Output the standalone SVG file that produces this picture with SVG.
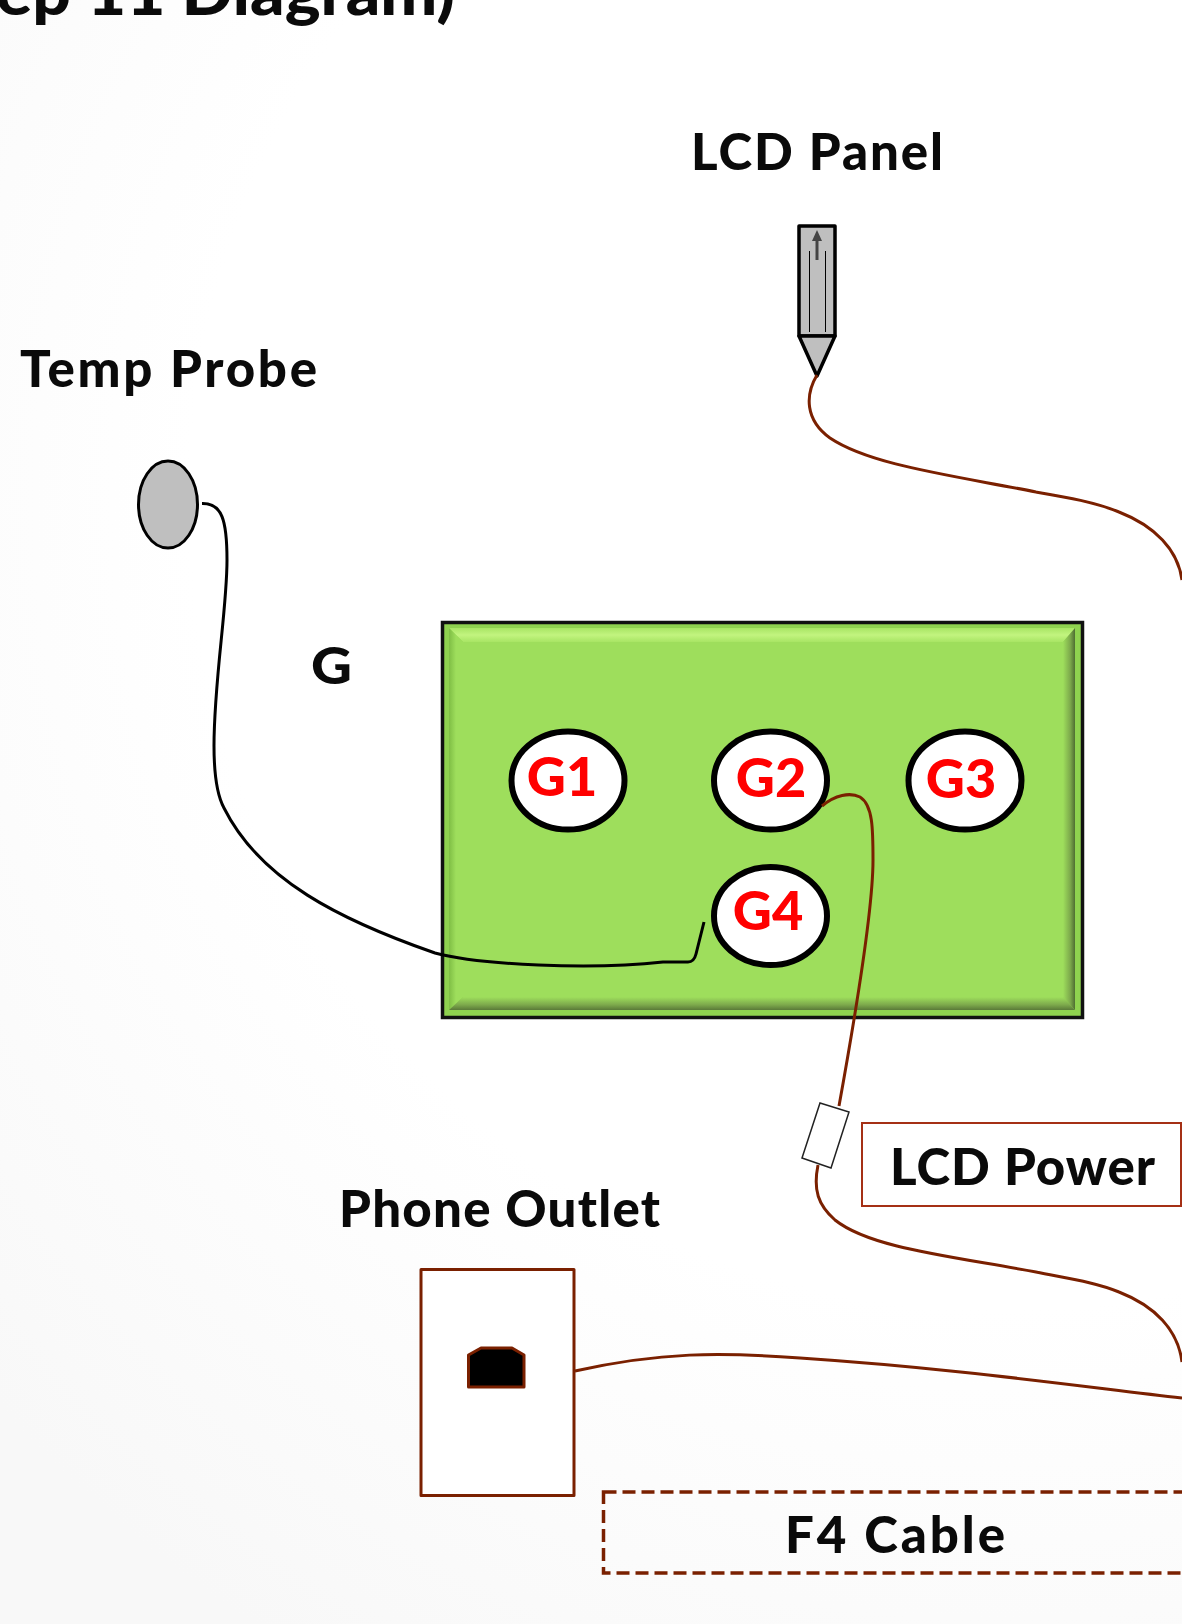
<svg xmlns="http://www.w3.org/2000/svg" width="1182" height="1624" viewBox="0 0 1182 1624">
<style>
.t{font-family:"Lato","Liberation Sans",sans-serif;font-weight:900;fill:#0a0a0a;font-size:51px}
.g{font-family:"Lato","Liberation Sans",sans-serif;font-weight:900;fill:#ff0000;font-size:54px;text-anchor:middle}
.w{fill:none;stroke:#7a2000;stroke-width:3}
.p{fill:#fff;stroke:#000;stroke-width:6}
</style>
<defs>
<radialGradient id="bg" gradientUnits="userSpaceOnUse" cx="1000" cy="500" r="1350">
<stop offset="0.6" stop-color="#ffffff"/><stop offset="1" stop-color="#f8f8f8"/>
</radialGradient>
<linearGradient id="r" x1="0" x2="1" y1="0" y2="0"><stop offset="0" stop-color="#9ede5c"/><stop offset="0.6" stop-color="#7da94c"/><stop offset="1" stop-color="#4f6e32"/></linearGradient>
<linearGradient id="b" x1="0" x2="0" y1="0" y2="1"><stop offset="0" stop-color="#9ede5c"/><stop offset="0.6" stop-color="#7da94c"/><stop offset="1" stop-color="#5a7a38"/></linearGradient>
<linearGradient id="l" x1="0" x2="1" y1="0" y2="0"><stop offset="0" stop-color="#7fbe45"/><stop offset="0.5" stop-color="#9ede5c"/></linearGradient>
<linearGradient id="u" x1="0" x2="0" y1="0" y2="1"><stop offset="0" stop-color="#a8e564"/><stop offset="0.5" stop-color="#c2f47f"/><stop offset="1" stop-color="#a8e564"/></linearGradient>
</defs>
<rect width="1182" height="1624" fill="url(#bg)"/>
<text class="t" x="-4" y="15" textLength="459" lengthAdjust="spacingAndGlyphs" style="font-size:62px">ep 11 Diagram)</text>
<text class="t" x="691" y="170" textLength="252">LCD Panel</text>
<text class="t" x="20" y="387" textLength="297">Temp Probe</text>
<text class="t" x="311" y="684" textLength="41" lengthAdjust="spacingAndGlyphs">G</text>
<g id="board">
<rect x="442.500" y="622.500" width="640" height="395" fill="#8fd24f" stroke="#111" stroke-width="3.500"/>
<polygon points="449,628 1075,628 1063,642 463,642" fill="url(#u)"/>
<polygon points="449,628 463,642 463,997 449,1010" fill="url(#l)"/>
<polygon points="1075,628 1075,1010 1063,997 1063,642" fill="url(#r)"/>
<polygon points="449,1010 1075,1010 1063,997 463,997" fill="url(#b)"/>
<rect x="463" y="642" width="600" height="355" fill="#9ede5c"/>
</g>
<g id="temp-probe"><ellipse cx="168" cy="504.500" rx="29.500" ry="43.500" fill="#bfbfbf" stroke="#000" stroke-width="3"/></g>
<g id="lcd-panel">
<rect x="799" y="226" width="36" height="110" fill="#bfbfbf" stroke="#000" stroke-width="3.500" stroke-linejoin="round"/>
<polygon points="799,336 835,336 817,376" fill="#bfbfbf" stroke="#000" stroke-width="3.500" stroke-linejoin="round"/>
<path d="M809.500 251V332M825.500 251V332" stroke="#000" stroke-width="1" fill="none"/>
<path d="M817 260V238" stroke="#444" stroke-width="3" fill="none"/>
<polygon points="817,230 822,241 812,241" fill="#444"/>
</g>
<g id="G1"><ellipse class="p" cx="568" cy="780.500" rx="56.500" ry="49"/><text class="g" x="562" y="796">G1</text></g>
<g id="G2"><ellipse class="p" cx="770.500" cy="780.500" rx="56.500" ry="49"/><text class="g" x="771" y="797">G2</text></g>
<g id="G3"><ellipse class="p" cx="965" cy="780.500" rx="56.500" ry="49"/><text class="g" x="961" y="798">G3</text></g>
<g id="G4"><ellipse class="p" cx="770.500" cy="916" rx="56.500" ry="49"/><text class="g" x="768" y="930">G4</text></g>
<g id="connectors">
<path d="M202 503.500C222 503 227 520 227 560C227 610 214 680 214 746C214 775 217 795 224 808C260 880 340 920 435 953C480 965 590 970 663 962L688 962C693 962 695 958 696 954L704 922" fill="none" stroke="#000" stroke-width="3"/>
<path class="w" d="M817 375C805 395 805 420 830 438C870 465 950 475 1036 492C1065 497 1095 502 1119 512C1155 526 1178 550 1182 580"/>
<path class="w" d="M822 806C835 795 850 792 860 797C873 805 873 830 873 860C873 900 860 990 839 1106"/>
<path class="w" d="M818 1165C813 1190 818 1205 835 1220C870 1248 950 1256 1036 1272C1065 1278 1095 1282 1119 1292C1155 1306 1178 1330 1182 1362"/>
<path class="w" d="M575 1371C660 1352 720 1352 800 1358C950 1368 1070 1385 1182 1398"/>
</g>
<g id="connector-plug"><polygon points="820,1103 849,1112 831,1168 802,1158" fill="#fff" stroke="#222" stroke-width="1.500"/></g>
<g id="lcd-power">
<rect x="862" y="1123" width="319" height="83" fill="#fff" stroke="#a53015" stroke-width="2"/>
<text class="t" x="890" y="1185" textLength="265">LCD Power</text>
</g>
<g id="phone-outlet">
<text class="t" x="339" y="1227" textLength="321">Phone Outlet</text>
<rect x="421" y="1269.500" width="153" height="226" fill="#fff" stroke="#7a2000" stroke-width="3" stroke-linejoin="round"/>
<polygon points="468.500,1355 481,1348 512,1348 524,1355 524,1387 468.500,1387" fill="#000" stroke="#7a2000" stroke-width="3" stroke-linejoin="round"/>
</g>
<g id="f4-cable">
<rect x="603.500" y="1492" width="590" height="81" fill="none" stroke="#7a2000" stroke-width="3.500" stroke-dasharray="13 6"/>
<text class="t" x="895" y="1553" text-anchor="middle" textLength="220">F4 Cable</text>
</g>
</svg>
